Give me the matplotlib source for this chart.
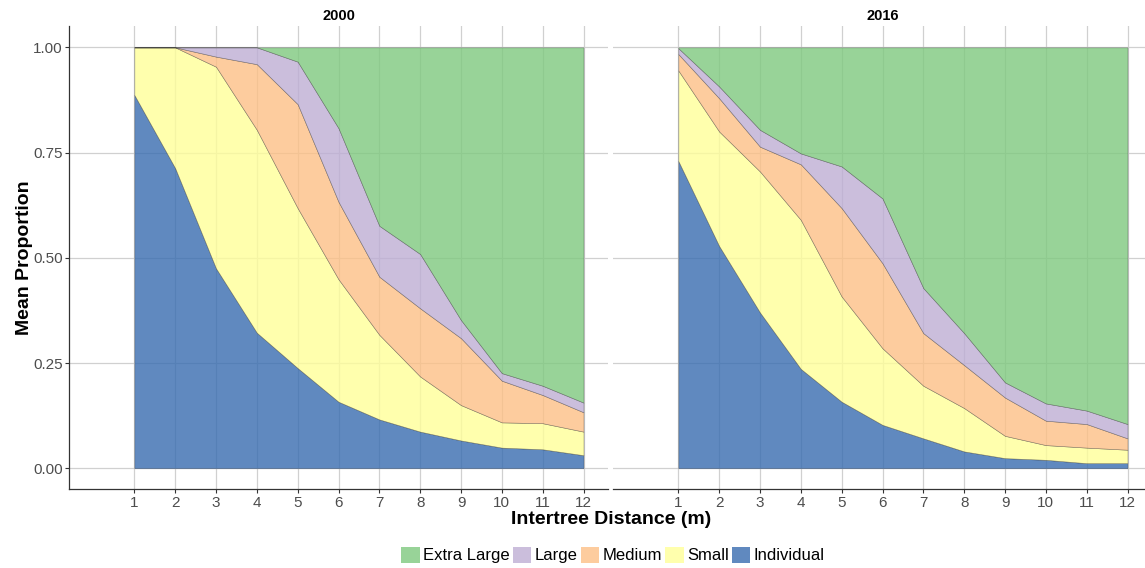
import numpy as np
import matplotlib
matplotlib.use("Agg")
import matplotlib.pyplot as plt
from matplotlib.patches import Patch

plt.rcParams['font.family'] = ['Liberation Sans', 'DejaVu Sans']

# Mean proportion of trees in each cluster-size class by intertree distance
distance = np.arange(1, 13)
years = ["2000", "2016"]
categories = ["Individual", "Small", "Medium", "Large", "Extra Large"]

individual_2000 = [0.887, 0.713, 0.475, 0.322, 0.238, 0.158, 0.116, 0.087, 0.066, 0.049, 0.045, 0.031]
small_2000 = [0.113, 0.287, 0.479, 0.482, 0.380, 0.291, 0.201, 0.131, 0.084, 0.060, 0.062, 0.056]
medium_2000 = [0.000, 0.000, 0.024, 0.156, 0.247, 0.184, 0.138, 0.162, 0.159, 0.099, 0.067, 0.046]
large_2000 = [0.000, 0.000, 0.022, 0.040, 0.101, 0.175, 0.121, 0.129, 0.043, 0.018, 0.022, 0.023]
xlarge_2000 = [0.000, 0.000, 0.000, 0.000, 0.034, 0.192, 0.424, 0.491, 0.648, 0.774, 0.804, 0.844]

individual_2016 = [0.730, 0.528, 0.370, 0.236, 0.158, 0.103, 0.071, 0.040, 0.024, 0.020, 0.012, 0.012]
small_2016 = [0.215, 0.272, 0.335, 0.354, 0.250, 0.182, 0.125, 0.103, 0.053, 0.035, 0.037, 0.032]
medium_2016 = [0.039, 0.079, 0.059, 0.132, 0.210, 0.202, 0.125, 0.102, 0.091, 0.058, 0.056, 0.027]
large_2016 = [0.014, 0.028, 0.040, 0.026, 0.099, 0.154, 0.107, 0.076, 0.036, 0.041, 0.032, 0.034]
xlarge_2016 = [0.002, 0.093, 0.196, 0.252, 0.283, 0.359, 0.572, 0.679, 0.796, 0.846, 0.863, 0.895]

series = {
    "2000": [individual_2000, small_2000, medium_2000, large_2000, xlarge_2000],
    "2016": [individual_2016, small_2016, medium_2016, large_2016, xlarge_2016],
}

# Accent palette, drawn at alpha 0.8
colors = {"Individual": "#386CB0", "Small": "#FFFF99", "Medium": "#FDC086",
          "Large": "#BEAED4", "Extra Large": "#7FC97F"}
alpha = 0.8

W, H = 1145, 568
fig = plt.figure(figsize=(W / 100, H / 100), dpi=100)

panel_bottom = (H - 489.3) / H
panel_height = 463 / H
panel_width = 539 / W
lefts = [69 / W, 613 / W]

grid_col = "#D0D0D0"
axis_col = "#333333"
tick_col = "#4D4D4D"

for i, yr in enumerate(years):
    ax = fig.add_axes([lefts[i], panel_bottom, panel_width, panel_height])
    ax.set_xlim(-0.6, 12.6)
    ax.set_ylim(-0.05, 1.05)

    faces = [matplotlib.colors.to_rgba(colors[c], alpha) for c in categories]
    polys = ax.stackplot(distance, *series[yr], colors=faces,
                         edgecolor=(0.2, 0.2, 0.2, 0.5), linewidth=0.4)
    for p, f in zip(polys, faces):
        p.set_facecolor(f)

    ax.set_axisbelow(True)
    ax.grid(True, color=grid_col, linewidth=0.9)
    ax.set_xticks(distance)
    ax.set_yticks([0, 0.25, 0.5, 0.75, 1.0])
    ax.set_yticklabels(["0.00", "0.25", "0.50", "0.75", "1.00"])

    for s in ["top", "right"]:
        ax.spines[s].set_visible(False)
    ax.spines["bottom"].set_color(axis_col)
    ax.spines["bottom"].set_linewidth(0.9)
    ax.spines["left"].set_color(axis_col)
    ax.spines["left"].set_linewidth(0.9)
    ax.tick_params(axis="both", colors=axis_col, labelcolor=tick_col,
                   labelsize=11, length=3, width=0.8, pad=1.5)
    if i == 1:
        ax.spines["left"].set_visible(False)
        ax.tick_params(axis="y", left=False, labelleft=False)

    ax.set_title(yr, fontsize=10.5, fontweight="bold", pad=4.5)

fig.text(611 / W, 1 - 520 / H, "Intertree Distance (m)", fontsize=14,
         fontweight="bold", ha="center", va="center")
fig.text(25 / W, 1 - 258 / H, "Mean Proportion", fontsize=14,
         fontweight="bold", ha="center", va="center", rotation=90)

legend_order = ["Extra Large", "Large", "Medium", "Small", "Individual"]
handles = [Patch(facecolor=matplotlib.colors.to_rgba(colors[c], alpha), edgecolor="none")
           for c in legend_order]
fig.legend(handles, legend_order, loc="center", bbox_to_anchor=(613 / W, 13 / H),
           ncol=5, frameon=False, fontsize=12, handlelength=1.1, handleheight=1.1,
           handletextpad=0.2, columnspacing=0.2, borderpad=0)

fig.savefig("out.png", dpi=100)
